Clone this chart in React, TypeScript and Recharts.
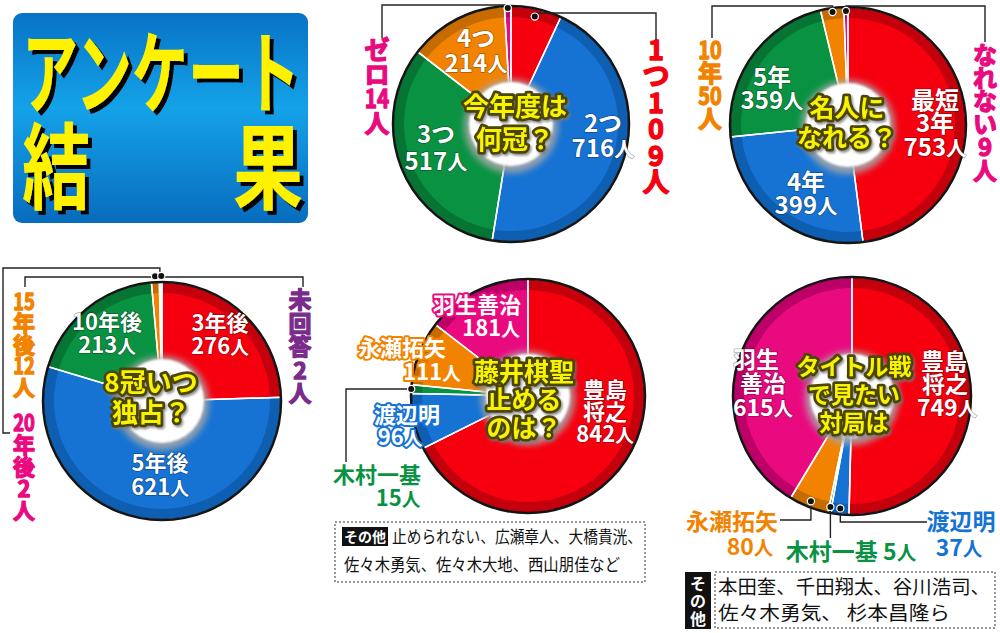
import { Cell, Pie, PieChart } from 'recharts'

const FONT = '"Noto Sans CJK JP", "Noto Sans CJK SC", sans-serif'

const FILL = ['#f6000f', '#1673d3', '#0a9243', '#f28300', '#ea0a80', '#7b2b8c']
const RIM = ['#c3000b', '#0e5eb1', '#067533', '#c66b00', '#bd0067', '#5c1a6c']

// 今年度は何冠？
const q1Names = ['1つ', '2つ', '3つ', '4つ', 'ゼロ']
const q1Values = [109, 716, 517, 214, 14]
// 名人になれる？
const q2Names = ['最短\n3年', '4年', '5年', '10年', 'なれない']
const q2Values = [753, 399, 359, 50, 9]
// 8冠いつ独占？
const q3Names = ['3年後', '5年後', '10年後', '15年後', '20年後', '未回答']
const q3Values = [276, 621, 213, 12, 2, 2]
// 藤井棋聖止めるのは？
const q4Names = ['豊島\n将之', '渡辺明', '木村一基', '永瀬拓矢', '羽生善治']
const q4Values = [842, 96, 15, 111, 181]
// タイトル戦で見たい対局は
const q5Names = ['豊島\n将之', '渡辺明', '木村一基', '永瀬拓矢', '羽生\n善治']
const q5Values = [749, 37, 5, 80, 615]

const q4Others = ['止められない、広瀬章人、大橋貴洸、', '佐々木勇気、佐々木大地、西山朋佳など']
const q5Others = ['本田奎、千田翔太、谷川浩司、', '佐々木勇気、 杉本昌隆ら']

const pies = [
  { names: q1Names, values: q1Values, cx: 511, cy: 124, r: 118, title: ['今年度は', '何冠？'], tx: 515, ty: 107, ts: 26, tl: 33 },
  { names: q2Names, values: q2Values, cx: 848, cy: 125, r: 118, title: ['名人に', 'なれる？'], tx: 847, ty: 108, ts: 25, tl: 30 },
  { names: q3Names, values: q3Values, cx: 162, cy: 401, r: 119, title: ['8冠いつ', '独占？'], tx: 151, ty: 383, ts: 26, tl: 30 },
  { names: q4Names, values: q4Values, cx: 528, cy: 396, r: 117, title: ['藤井棋聖', '止める', 'のは？'], tx: 524, ty: 372, ts: 25, tl: 28 },
  { names: q5Names, values: q5Values, cx: 852, cy: 396, r: 119, title: ['タイトル戦', 'で見たい', '対局は'], tx: 854, ty: 367, ts: 23, tl: 28 },
]

// labels drawn on / next to the slices
type Lab = { p: number; i: number; x: number | number[]; y: number; lh: number; size: number; fill?: string; stroke?: string; sw?: number; inline?: boolean }
const labels: Lab[] = [
  { p: 0, i: 1, x: 603, y: 123, lh: 25, size: 24 },
  { p: 0, i: 2, x: 436, y: 134, lh: 27, size: 24 },
  { p: 0, i: 3, x: 476, y: 38, lh: 25, size: 24 },
  { p: 1, i: 0, x: 935, y: 100, lh: 23.5, size: 24 },
  { p: 1, i: 1, x: 806, y: 182, lh: 23, size: 24 },
  { p: 1, i: 2, x: 772, y: 77, lh: 23, size: 24 },
  { p: 2, i: 0, x: 220, y: 323, lh: 23, size: 22 },
  { p: 2, i: 1, x: 160, y: 463, lh: 24, size: 22 },
  { p: 2, i: 2, x: 107, y: 322, lh: 23, size: 22 },
  { p: 3, i: 0, x: 605, y: 390, lh: 22, size: 22 },
  { p: 3, i: 4, x: [477, 491], y: 305, lh: 23, size: 22, stroke: FILL[4], sw: 4 },
  { p: 3, i: 3, x: [402, 432], y: 348, lh: 24, size: 22, stroke: FILL[3], sw: 4 },
  { p: 3, i: 1, x: [407, 400], y: 415, lh: 22, size: 22, stroke: FILL[1], sw: 4 },
  { p: 3, i: 2, x: [377, 398], y: 475, lh: 23, size: 22, fill: FILL[2], stroke: '#fff', sw: 4 },
  { p: 4, i: 0, x: [944, 945, 947], y: 362, lh: 23, size: 23 },
  { p: 4, i: 4, x: [756, 763, 763], y: 360, lh: 24, size: 23 },
  { p: 4, i: 3, x: [732, 750], y: 522, lh: 25, size: 23, fill: FILL[3], stroke: '#fff', sw: 4 },
  { p: 4, i: 1, x: [961, 959], y: 522, lh: 26, size: 23, fill: FILL[1], stroke: '#fff', sw: 4 },
  { p: 4, i: 2, x: 851, y: 552, lh: 0, size: 23, fill: FILL[2], stroke: '#fff', sw: 4, inline: true },
]

// vertical labels outside the pies
const vlabels = [
  { p: 0, i: 4, x: 377, y: 50, step: 24.5, size: 25 },
  { p: 0, i: 0, x: 656, y: 50, step: 26.5, size: 27 },
  { p: 1, i: 3, x: 710, y: 50, step: 23, size: 24 },
  { p: 1, i: 4, x: 985, y: 55, step: 23.2, size: 24 },
  { p: 2, i: 3, x: 24, y: 302, step: 21.5, size: 22 },
  { p: 2, i: 4, x: 24, y: 423, step: 22, size: 22 },
  { p: 2, i: 5, x: 300, y: 300, step: 23.5, size: 23 },
]

// leader lines: fixed route, then to the slice edge
const connectors = [
  { p: 0, i: 4, dr: -2, via: [[382, 38], [382, 5]] },
  { p: 0, i: 0, dr: -8, via: [[656, 40], [656, 13]] },
  { p: 1, i: 3, dr: -4, via: [[712, 38], [712, 6]] },
  { p: 1, i: 4, dr: -4, via: [[985, 42], [985, 6]] },
  { p: 2, i: 4, dr: 6, via: [[10, 433], [3, 433], [3, 268]] },
  { p: 2, i: 3, dr: 6, via: [[25, 287], [25, 277]] },
  { p: 2, i: 5, dr: 6, via: [[303, 287], [303, 277]] },
  { p: 3, i: 2, dr: 0, via: [[346, 462], [346, 389]] },
  { p: 4, i: 3, dr: -6, via: [[780, 520]] },
  { p: 4, i: 2, dr: -6, via: [], drop: 538 },
  { p: 4, i: 1, dr: -6, via: [[927, 522]] },
]

function slicePoint(values: number[], i: number, cx: number, cy: number, r: number) {
  const total = values.reduce((a, b) => a + b, 0)
  const before = values.slice(0, i).reduce((a, b) => a + b, 0)
  const a = ((before + values[i] / 2) / total) * 2 * Math.PI
  return { x: cx + r * Math.sin(a), y: cy - r * Math.cos(a) }
}

function tokens(s: string) {
  return s.match(/\d+|./g) || []
}

function withUnit(s: string) {
  if (!s.endsWith('人')) return s
  return (
    <>
      {s.slice(0, -1)}
      <tspan fontSize="0.85em">人</tspan>
    </>
  )
}

type Line = { x: number; y: number; s: any; len?: number }

// one <text> per label, lines as tspans centred on y
function MText(props: any) {
  const { lines, size, fill, stroke, sw = 0, anchor = 'middle', weight = 700 } = props as { lines: Line[]; [k: string]: any }
  return (
    <text
      fontSize={size}
      fill={fill}
      stroke={stroke}
      strokeWidth={sw}
      paintOrder="stroke"
      strokeLinejoin="round"
      textAnchor={anchor}
      fontWeight={weight}
      fontFamily={FONT}
    >
      {lines.map((l, k) => (
        <tspan key={k} x={l.x} y={l.y + size * 0.36} textLength={l.len} lengthAdjust={l.len ? 'spacingAndGlyphs' : undefined}>
          {l.s}
        </tspan>
      ))}
    </text>
  )
}

export default function App() {
  return (
    <div style={{ position: 'absolute', left: 0, top: 0, width: 1000, height: 633, background: '#fff' }}>
      <PieChart width={1000} height={633} margin={{ top: 0, right: 0, bottom: 0, left: 0 }}>
        {pies.flatMap((c, n) => {
          const data = c.names.map((name, i) => ({ name, value: c.values[i] }))
          return [
            <Pie key={`rim${n}`} data={data} dataKey="value" cx={c.cx} cy={c.cy} outerRadius={c.r} startAngle={90} endAngle={-270} stroke="none" isAnimationActive={false}>
              {data.map((_, i) => <Cell key={i} fill={RIM[i]} />)}
            </Pie>,
            <Pie key={`in${n}`} data={data} dataKey="value" cx={c.cx} cy={c.cy} outerRadius={c.r - 11} startAngle={90} endAngle={-270} stroke="none" isAnimationActive={false}>
              {data.map((_, i) => <Cell key={i} fill={FILL[i]} />)}
            </Pie>,
            <Pie key={`sep${n}`} data={data} dataKey="value" cx={c.cx} cy={c.cy} outerRadius={c.r} startAngle={90} endAngle={-270} fill="none" stroke="#fff" strokeWidth={1.5} isAnimationActive={false}>
              {data.map((_, i) => <Cell key={i} fill="none" stroke="#fff" />)}
            </Pie>,
          ]
        })}
      </PieChart>

      <svg width={1000} height={633} style={{ position: 'absolute', left: 0, top: 0, pointerEvents: 'none' }}>
        <defs>
          <linearGradient id="titleBg" x1="0" y1="0" x2="0" y2="1">
            <stop offset="0" stopColor="#0873c6" />
            <stop offset="0.45" stopColor="#14a2e8" />
            <stop offset="1" stopColor="#086cbe" />
          </linearGradient>
          <filter id="blur3" x="-50%" y="-50%" width="200%" height="200%">
            <feGaussianBlur stdDeviation="3" />
          </filter>
          <filter id="blur1" x="-50%" y="-50%" width="200%" height="200%">
            <feGaussianBlur stdDeviation="1.2" />
          </filter>
          <filter id="shadow" x="-20%" y="-20%" width="140%" height="140%">
            <feDropShadow dx="1.5" dy="2" stdDeviation="1.2" floodColor="#777" floodOpacity="0.8" />
          </filter>
          <filter id="hard" x="-10%" y="-10%" width="130%" height="130%">
            <feDropShadow dx="4" dy="4" stdDeviation="0" floodColor="#000" floodOpacity="1" />
          </filter>
        </defs>

        {/* title */}
        <rect x={13} y={13} width={295} height={210} rx={9} fill="url(#titleBg)" />
        <g filter="url(#hard)">
          <MText size={90} fill="#fff200" anchor="start" lines={[{ x: 22, y: 73.6, s: 'アンケート', len: 278 }]} />
          <MText size={94} fill="#fff200" anchor="start" lines={[{ x: 22, y: 168, s: '結', len: 68 }]} />
          <MText size={94} fill="#fff200" anchor="start" lines={[{ x: 233, y: 168, s: '果', len: 70 }]} />
        </g>

        {/* outlines and centre badges */}
        {pies.map((c, n) => (
          <g key={n}>
            <circle cx={c.cx} cy={c.cy} r={c.r} fill="none" stroke="#151515" strokeWidth={2.5} />
            <circle cx={c.cx} cy={c.cy + 2} r={47} fill="#a8a8a8" opacity={0.85} filter="url(#blur3)" />
            <circle cx={c.cx} cy={c.cy} r={42} fill="#fff" filter="url(#blur1)" />
            <g filter="url(#shadow)">
              <MText
                size={c.ts}
                fill="#f8f300"
                stroke="#4c4500"
                sw={5.5}
                lines={c.title.map((s, k) => ({ x: c.tx, y: c.ty + k * c.tl, s }))}
              />
            </g>
          </g>
        ))}

        {/* slice labels */}
        {labels.map((l, k) => {
          const c = pies[l.p]
          const strs = l.inline
            ? [`${c.names[l.i]} ${c.values[l.i]}人`]
            : [...c.names[l.i].split('\n'), `${c.values[l.i]}人`]
          const xs = Array.isArray(l.x) ? l.x : strs.map(() => l.x as number)
          return (
            <MText
              key={k}
              size={l.size}
              fill={l.fill || '#fff'}
              stroke={l.stroke || 'rgba(0,0,0,0.35)'}
              sw={l.sw ?? 1.5}
              lines={strs.map((s, j) => ({ x: xs[j], y: l.y + j * l.lh, s: withUnit(s) }))}
            />
          )
        })}

        {/* vertical labels */}
        {vlabels.map((v, k) => {
          const c = pies[v.p]
          const val = String(c.values[v.i])
          const parts = [...tokens(c.names[v.i]), ...(val.length > 2 ? val.split('') : [val]), '人']
          return (
            <MText
              key={k}
              size={v.size}
              fill={FILL[v.i]}
              stroke={FILL[v.i]}
              sw={1.3}
              lines={parts.map((s, j) => ({ x: v.x, y: v.y + j * v.step, s, len: s.length > 1 ? v.size * 0.98 : undefined }))}
            />
          )
        })}

        {/* leader lines */}
        {connectors.map((cn, k) => {
          const c = pies[cn.p]
          const d = slicePoint(c.values, cn.i, c.cx, c.cy, c.r + cn.dr)
          const pts = cn.via.length
            ? [...cn.via, [d.x, cn.via[cn.via.length - 1][1]], [d.x, d.y]]
            : [[d.x, cn.drop as number], [d.x, d.y]]
          return (
            <g key={k}>
              <polyline points={pts.map((p) => p.join(',')).join(' ')} fill="none" stroke="#222" strokeWidth={1.4} />
              <circle cx={d.x} cy={d.y} r={3.6} fill="#111" stroke="#fff" strokeWidth={1.2} />
            </g>
          )
        })}

        {/* その他 notes */}
        <rect x={335} y={522} width={310} height={60} fill="#fff" stroke="#333" strokeWidth={1} strokeDasharray="2 2" />
        <rect x={342} y={527} width={46} height={19} fill="#111" />
        <MText size={14} fill="#fff" lines={[{ x: 365, y: 536.5, s: 'その他' }]} />
        <MText size={16.5} fill="#111" anchor="start" weight={400} lines={[{ x: 392, y: 537, s: q4Others[0], len: 250 }]} />
        <MText size={16.5} fill="#111" anchor="start" weight={400} lines={[{ x: 344, y: 565, s: q4Others[1], len: 276 }]} />

        <rect x={715} y={572} width={280} height={56} fill="#fff" stroke="#333" strokeWidth={1} strokeDasharray="2 2" />
        <rect x={685} y={572} width={26} height={57} fill="#111" />
        <MText size={16} fill="#fff" lines={['そ', 'の', '他'].map((s, j) => ({ x: 698, y: 584 + j * 17.5, s }))} />
        <MText size={19} fill="#111" anchor="start" weight={400} lines={[{ x: 718, y: 587, s: q5Others[0], len: 272 }]} />
        <MText size={19} fill="#111" anchor="start" weight={400} lines={[{ x: 718, y: 613, s: q5Others[1], len: 232 }]} />
      </svg>
    </div>
  )
}
